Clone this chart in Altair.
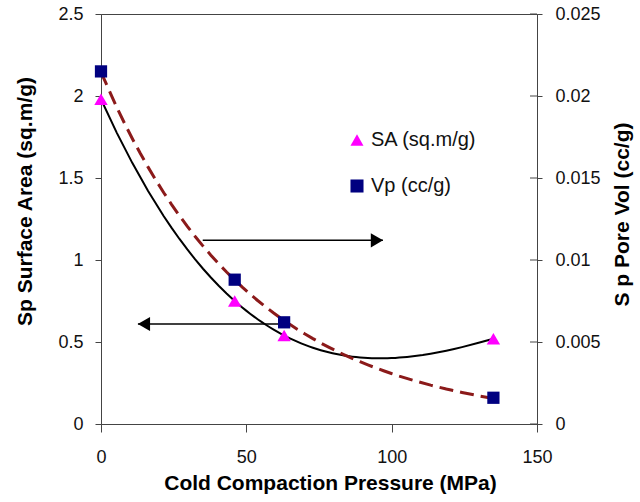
import altair as alt
import pandas as pd

# ---- data ----
pressure = [0, 46, 63, 135]                      # Cold compaction pressure (MPa)
surface_area = [1.98, 0.75, 0.54, 0.52]          # SA (sq.m/g)
pore_volume = [0.0215, 0.0088, 0.0062, 0.0016]   # Vp (cc/g)

x_ticks = [0, 50, 100, 150]
sa_ticks = [0, 0.5, 1, 1.5, 2, 2.5]
vp_ticks = [0, 0.005, 0.01, 0.015, 0.02, 0.025]

series_names = ["SA (sq.m/g)", "Vp (cc/g)"]
series_colors = ["#FF00FF", "#000080"]
series_shapes = ["triangle-up", "square"]

# annotation arrows (left-axis units)
arrow_start = [35, 61.5]
arrow_tip = [97, 12.7]
arrow_level = [1.12, 0.61]

x_title = "Cold Compaction Pressure (MPa)"
sa_title = "Sp Surface Area (sq.m/g)"
vp_title = "S p Pore Vol (cc/g)"

FONT = "Liberation Sans"
LINE = "#444444"

sa_df = pd.DataFrame({"p": pressure, "v": surface_area, "series": series_names[0]})
vp_df = pd.DataFrame({"p": pressure, "v": pore_volume, "series": series_names[1]})
arrow_df = pd.DataFrame({"x0": arrow_start, "x1": arrow_tip, "lvl": arrow_level})
right_arrow = arrow_df.iloc[[0]]
left_arrow = arrow_df.iloc[[1]]
inner_ticks_df = pd.DataFrame({"p": [x_ticks[-1]] * len(vp_ticks), "v": vp_ticks})

x_scale = alt.Scale(domain=[x_ticks[0], x_ticks[-1]], nice=False)
x_axis = alt.Axis(
    values=x_ticks, title=x_title, grid=False, tickSize=8, labelPadding=16,
    labelFontSize=18, labelFont=FONT, labelColor="#111111", labelFlush=False,
    titleFont=FONT, titleFontSize=21, titleFontWeight="bold", titleColor="#000000",
    titleBaseline="alphabetic", titleAlign="center", titleX=229, titleY=65,
    domainColor=LINE, tickColor=LINE,
)


def X(field):
    return alt.X(field, type="quantitative", scale=x_scale, axis=x_axis, title=x_title)


sa_scale = alt.Scale(domain=[sa_ticks[0], sa_ticks[-1]], nice=False)
sa_axis = alt.Axis(
    orient="left", values=sa_ticks, format="~g", title=sa_title, grid=False,
    tickSize=6, labelPadding=12, labelFontSize=18, labelFont=FONT, labelColor="#111111",
    labelFlush=False, titleFont=FONT, titleFontSize=21, titleFontWeight="bold",
    titleColor="#000000", titleAngle=270, titleBaseline="alphabetic", titleAlign="center",
    titleX=-70, titleY=187, domainColor=LINE, tickColor=LINE,
)
vp_scale = alt.Scale(domain=[vp_ticks[0], vp_ticks[-1]], nice=False)
vp_axis = alt.Axis(
    orient="right", values=vp_ticks, format="~g", title=vp_title, grid=False,
    tickSize=5, labelPadding=13, labelFontSize=18, labelFont=FONT, labelColor="#111111",
    labelFlush=False, titleFont=FONT, titleFontSize=21, titleFontWeight="bold",
    titleColor="#000000", titleAngle=270, titleBaseline="alphabetic", titleAlign="center",
    titleX=91, titleY=200, domainColor=LINE, tickColor=LINE,
)


def YSA(field):
    return alt.Y(field, type="quantitative", scale=sa_scale, axis=sa_axis, title=sa_title)


def YVP(field):
    return alt.Y(field, type="quantitative", scale=vp_scale, axis=vp_axis, title=vp_title)


legend = alt.Legend(
    title=None, orient="none", legendX=246, legendY=116, labelFont=FONT,
    labelFontSize=20, labelColor="#111111", symbolSize=170, rowPadding=26,
    labelOffset=4, padding=0,
)
color_enc = alt.Color("series:N", scale=alt.Scale(domain=series_names, range=series_colors), legend=legend)
shape_enc = alt.Shape("series:N", scale=alt.Scale(domain=series_names, range=series_shapes), legend=legend)

# ---- surface area group (left axis) ----
sa_fit = (
    alt.Chart(sa_df)
    .transform_regression("p", "v", method="poly", order=3, extent=[pressure[0], pressure[-1]])
    .mark_line(color="black", strokeWidth=2)
    .encode(x=X("p"), y=YSA("v"))
)
arrow_lines = (
    alt.Chart(arrow_df)
    .mark_rule(color="black", strokeWidth=1.5)
    .encode(x=X("x0"), x2="x1", y=YSA("lvl"))
)
head_right = (
    alt.Chart(right_arrow)
    .mark_point(shape="triangle-right", filled=True, color="black", opacity=1, size=200, xOffset=-6)
    .encode(x=X("x1"), y=YSA("lvl"))
)
head_left = (
    alt.Chart(left_arrow)
    .mark_point(shape="triangle-left", filled=True, color="black", opacity=1, size=200, xOffset=6)
    .encode(x=X("x1"), y=YSA("lvl"))
)
sa_pts = (
    alt.Chart(sa_df)
    .mark_point(filled=True, opacity=1, size=180)
    .encode(x=X("p"), y=YSA("v"), color=color_enc, shape=shape_enc)
)
sa_group = alt.layer(sa_fit, arrow_lines, head_right, head_left, sa_pts)

# ---- pore volume group (right axis) ----
vp_fit = (
    alt.Chart(vp_df)
    .transform_regression("p", "v", method="exp", extent=[pressure[0], pressure[-1]])
    .mark_line(color="#8B1A1A", strokeWidth=3, strokeDash=[14, 7])
    .encode(x=X("p"), y=YVP("v"))
)
inner_ticks = (
    alt.Chart(inner_ticks_df)
    .mark_rule(color=LINE, strokeWidth=1, xOffset=-7)
    .encode(x=X("p"), x2="p", y=YVP("v"))
)
vp_pts = (
    alt.Chart(vp_df)
    .mark_point(filled=True, opacity=1, size=150)
    .encode(x=X("p"), y=YVP("v"), color=color_enc, shape=shape_enc)
)
vp_group = alt.layer(vp_fit, inner_ticks, vp_pts)

chart = (
    alt.layer(sa_group, vp_group)
    .resolve_scale(y="independent")
    .properties(
        width=436, height=410,
        autosize=alt.AutoSizeParams(type="none"),
        padding={"left": 101, "top": 14, "right": 103, "bottom": 78},
        background="white",
    )
    .configure_view(stroke=LINE, strokeWidth=1)
)

chart.save("out.html", embed_options={"renderer": "svg", "actions": False})
